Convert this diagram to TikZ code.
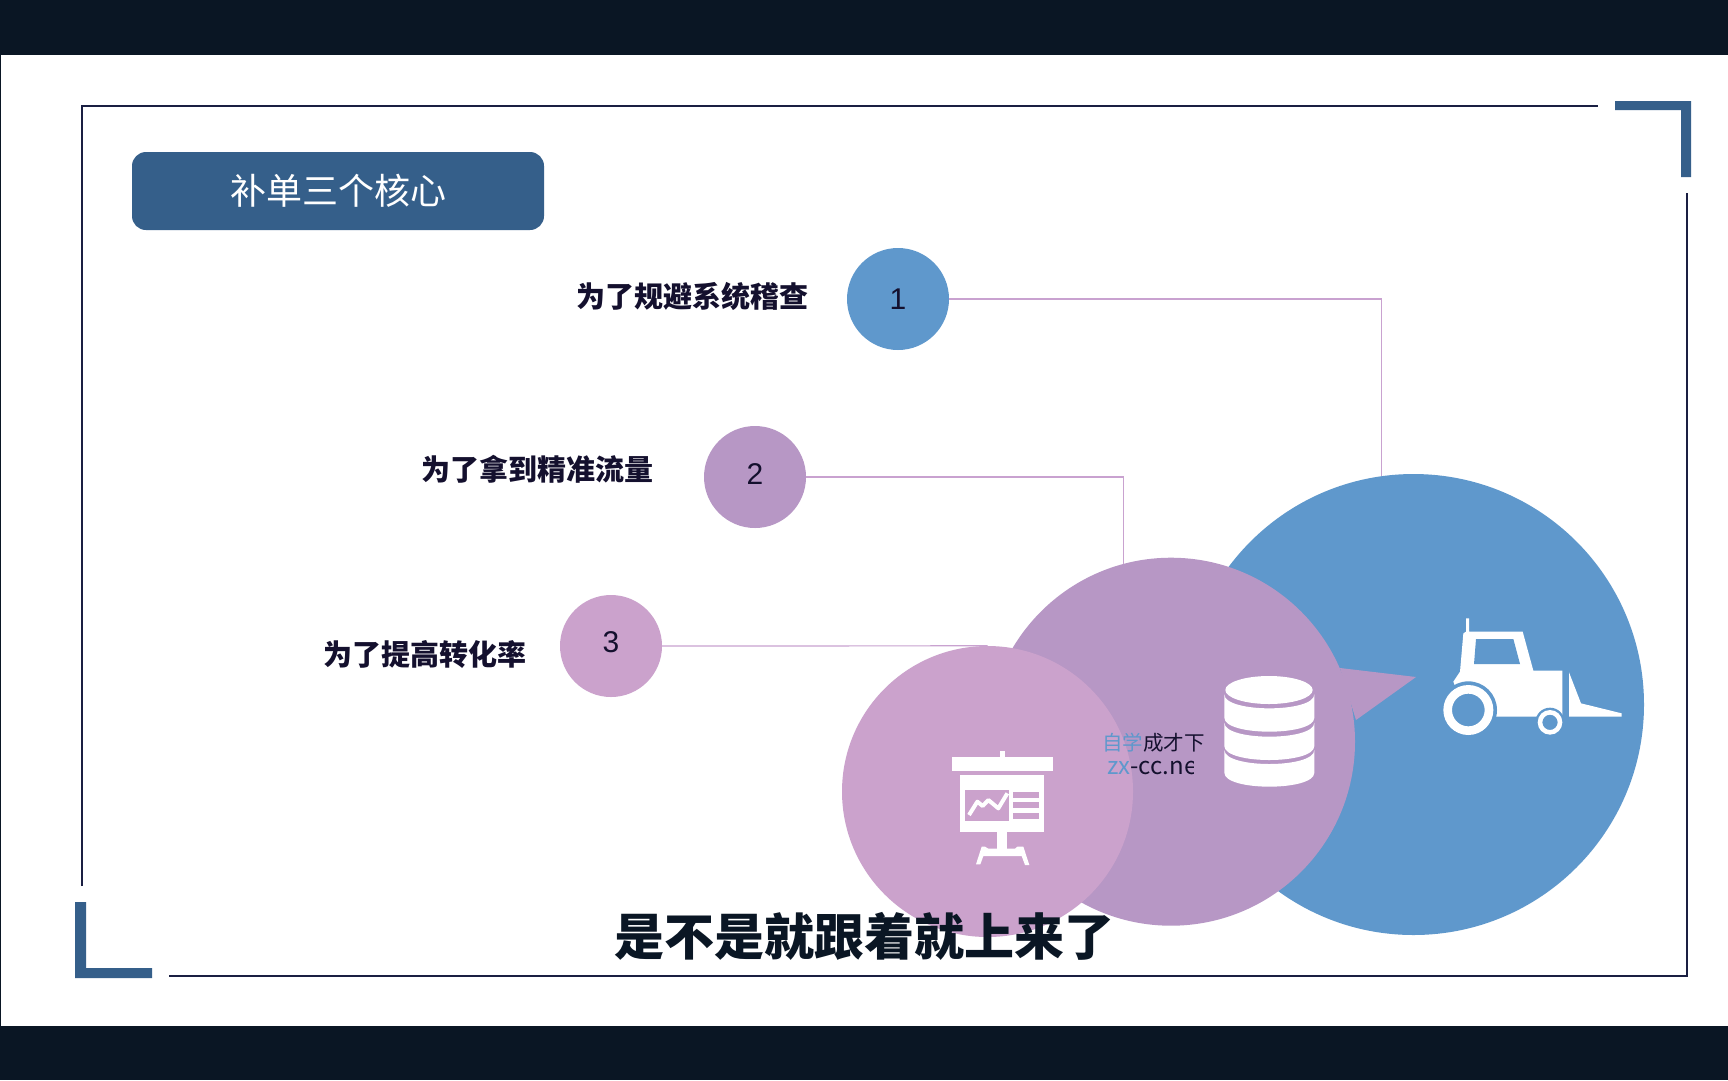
\documentclass[tikz,border=0pt]{standalone}
\usepackage{fontspec}
\setmainfont{Noto Sans CJK SC}
\newfontfamily\latinfont{Liberation Sans}
\definecolor{band}{HTML}{0A1624}
\definecolor{frameline}{HTML}{1A1F42}
\definecolor{steel}{HTML}{355F8A}
\definecolor{skyblue}{HTML}{5F98CC}
\definecolor{mauve}{HTML}{B797C5}
\definecolor{pinkish}{HTML}{CBA2CC}
\definecolor{wire}{HTML}{C9A2D0}
\definecolor{inkdark}{HTML}{14102E}
\tikzset{
  framestroke/.style={draw=frameline,line width=2pt},
  cornerfill/.style={fill=steel},
  badge/.style={circle,inner sep=0pt,minimum size=102pt,text=inkdark,font=\latinfont\fontsize{30}{33}\selectfont},
  blob/.style={circle,inner sep=0pt},
  lead/.style={draw=wire,line width=1.2pt},
  caption/.style={inner sep=0pt,text=inkdark,font=\bfseries\fontsize{29}{34}\selectfont},
  markstyle/.style={inner sep=0pt,anchor=base west},
}
\begin{document}
\begin{tikzpicture}[x=1pt,y=-1pt]
\useasboundingbox (0,0) rectangle (1728,1080);
\fill[white] (0,0) rectangle (1728,1080);
% bands
\fill[band] (0,0) rectangle (1728,55);
\fill[band] (0,1026) rectangle (1728,1080);
\fill[band] (0,55) rectangle (1,1026);
% frame
\draw[framestroke] (81.5,886) -- (81.5,105.5) -- (1598,105.5);
\draw[framestroke] (1687,193) -- (1687,975.5) -- (169,975.5);
\fill[cornerfill] (75,902) -- (86,902) -- (86,968) -- (152,968) -- (152,978) -- (75,978) -- cycle;
\fill[cornerfill] (1615,101) -- (1691,101) -- (1691,177) -- (1681,177) -- (1681,110) -- (1615,110) -- cycle;
% title
\node[fill=steel,rounded corners=14pt,minimum width=412pt,minimum height=78pt,inner sep=0pt,text=white,font=\fontsize{36}{40}\selectfont] (title) at (338,191) {\raisebox{3pt}{补单三个核心}};
% large circles
\node[blob,fill=skyblue,minimum size=461pt] (big) at (1413.5,704.5) {};
\fill[mauve] (1340,668) -- (1416,677) -- (1356,720) -- cycle;
\node[blob,fill=mauve,minimum size=368pt] (mid) at (1171,741.7) {};
\node[blob,fill=pinkish,minimum size=291pt] (pink) at (987.5,791.5) {};
% small circles
\node[badge,fill=skyblue] (one) at (898,299) {1};
\node[badge,fill=mauve] (two) at (755,477) {\raisebox{6pt}{2}};
\node[badge,fill=pinkish] (three) at (611,646) {\raisebox{7pt}{3}};
% connectors
\draw[lead] (one.east) -| (big.98);
\draw[lead] (two.east) -| (mid.105);
\draw[lead] (three.east) -- (pink.north);
% labels
\node[caption,anchor=east] (la) at (808.5,296) {为了规避系统稽查};
\node[caption,anchor=east] (lb) at (653.5,469.5) {为了拿到精准流量};
\node[caption,anchor=east] (lc) at (527,654.5) {为了提高转化率};
% tractor
\begin{scope}[shift={(1400,600)},scale=1/3]
  \fill[white] (198,55) -- (207,55) -- (207,95) -- (368,95) -- (400,212) -- (487,212) -- (487,350) -- (290,350) -- (200,350) -- (160,245) -- (180,215) -- (190,100) -- (198,95) -- cycle;
  \fill[skyblue] (228,117) -- (340,117) -- (360,192) -- (222,192) -- cycle;
  \fill[skyblue] (205,330) circle[radius=86];
  \fill[white,even odd rule] (205,330) circle[radius=75] (205,330) circle[radius=49];
  \fill[skyblue] (450,367) circle[radius=44];
  \fill[white,even odd rule] (450,367) circle[radius=37] (450,367) circle[radius=23];
  \fill[white] (507,217) -- (543,310) -- (665,340) -- (665,350) -- (507,350) -- cycle;
\end{scope}
% database
\begin{scope}[shift={(1050,640)},scale=1/3]
  \fill[white] (657,150) ellipse[x radius=131,y radius=42];
  \foreach \ya/\yb in {163/233,248/318,330/398}{
    \fill[white] (523,\ya) .. controls (523,\ya+56) and (793,\ya+56) .. (793,\ya) -- (793,\yb) .. controls (793,\yb+56) and (523,\yb+56) .. (523,\yb) -- cycle;
  }
\end{scope}
% presentation board
\begin{scope}[shift={(920,730)},scale=1/3]
  \fill[white] (97,82) rectangle (398,122);
  \fill[white] (240,64) rectangle (255,82);
  \fill[white] (120,135) rectangle (372,305);
  \fill[pinkish] (135,180) rectangle (267,272);
  \draw[white,line width=4pt,line join=round] (147,255) -- (172,215) -- (188,228) -- (205,210) -- (235,235) -- (262,190);
  \fill[pinkish] (280,186) rectangle (357,203);
  \fill[pinkish] (280,217) rectangle (357,233);
  \fill[pinkish] (280,249) rectangle (357,266);
  \fill[white] (232,305) rectangle (262,356);
  \fill[white] (168,403) -- (181,403) -- (190,378) -- (305,378) -- (315,405) -- (328,405) -- (310,350) -- (292,350) -- (285,356) -- (205,356) -- (195,350) -- (185,350) -- cycle;
\end{scope}
% watermark, cut off on the right as in the source
\begin{scope}
  \clip (1095,720) -- (1206,720) -- (1206,757) -- (1193,757) -- (1193,795) -- (1095,795) -- cycle;
  \node[markstyle,font=\fontsize{20.5}{24}\selectfont] (markcn) at (1102,750) {\textcolor{skyblue}{自学}\textcolor{inkdark}{成才下}};
  \node[markstyle,font=\fontsize{24}{28}\selectfont] (markurl) at (1107,774) {\textcolor{skyblue}{zx}\textcolor{inkdark}{-cc.ne}};
\end{scope}
% subtitle
\node[inner sep=0pt,text=band,font=\bfseries\fontsize{50}{56}\selectfont] (sub) at (864,936) {是不是就跟着就上来了};
\end{tikzpicture}
\end{document}
